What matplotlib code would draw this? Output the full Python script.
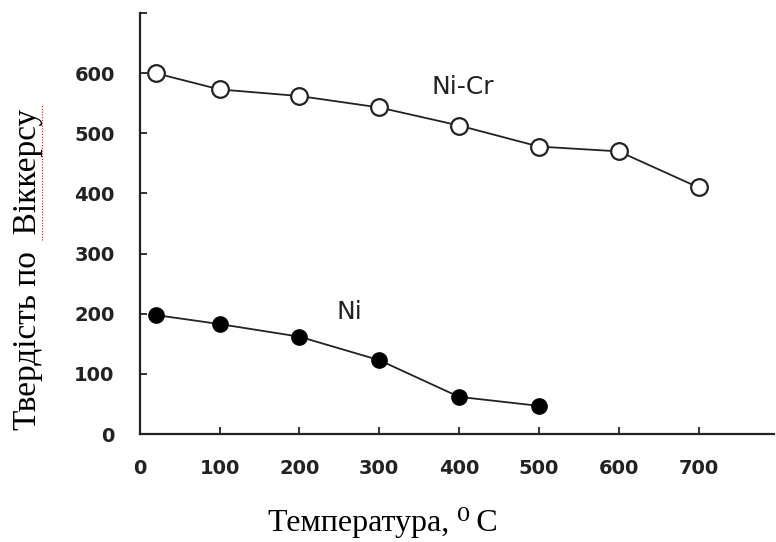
import matplotlib
matplotlib.use("Agg")
import matplotlib.pyplot as plt
from matplotlib.lines import Line2D

# Data
temp_nicr = [20, 100, 200, 300, 400, 500, 600, 700]
hv_nicr = [600, 573, 562, 543, 513, 478, 470, 410]
temp_ni = [20, 100, 200, 300, 400, 500]
hv_ni = [198, 183, 162, 123, 62, 47]
xticks = [0, 100, 200, 300, 400, 500, 600, 700]
yticks = [0, 100, 200, 300, 400, 500, 600]

fig = plt.figure(figsize=(7.76, 5.42), dpi=100)
ax = fig.add_axes([0.180, 0.199, 0.818, 0.777])

ax.plot(temp_nicr, hv_nicr, color="#222222", lw=1.3, marker="o", ms=12,
        mfc="white", mec="#222222", mew=1.6)
ax.plot(temp_ni, hv_ni, color="#222222", lw=1.3, marker="o", ms=11,
        mfc="black", mec="black")

ax.set_xlim(0, 795)
ax.set_ylim(0, 700)
ax.set_xticks(xticks)
ax.set_yticks(yticks + [700])
ax.set_yticklabels([str(v) for v in yticks] + [""])
ax.set_xticklabels([str(v) for v in xticks])

for s in ("top", "right"):
    ax.spines[s].set_visible(False)
for s in ("left", "bottom"):
    ax.spines[s].set_linewidth(1.6)
    ax.spines[s].set_color("#222222")

ax.tick_params(axis="both", direction="in", length=5, width=1.3,
               labelsize=14, colors="#222222")
ax.tick_params(axis="y", pad=18)
ax.tick_params(axis="x", pad=18)
for lbl in ax.get_xticklabels() + ax.get_yticklabels():
    lbl.set_fontweight("bold")
    lbl.set_fontfamily("DejaVu Sans")

ax.text(366, 577, "Ni-Cr", fontsize=18, family="DejaVu Sans", ha="left",
        va="center", color="#222222")
ax.text(247, 203, "Ni", fontsize=18, family="DejaVu Sans", ha="left",
        va="center", color="#222222")

fig.text(0.036, 0.503, "Твердість по  Віккерсу", rotation=90, fontsize=24,
         family=["Liberation Serif", "DejaVu Serif"], ha="center", va="center")
fig.text(0.493, 0.02, "Температура, \u2070\u2009C", fontsize=23,
         family=["Liberation Serif", "DejaVu Serif"], ha="center", va="baseline")

# red dotted spell-check underline under "Віккерсу"
fig.add_artist(Line2D([0.054, 0.054], [1 - 240 / 542, 1 - 104 / 542],
                      transform=fig.transFigure, color="red", lw=0.8,
                      ls=(0, (1, 1.5))))

fig.savefig("out.png", dpi=100)
